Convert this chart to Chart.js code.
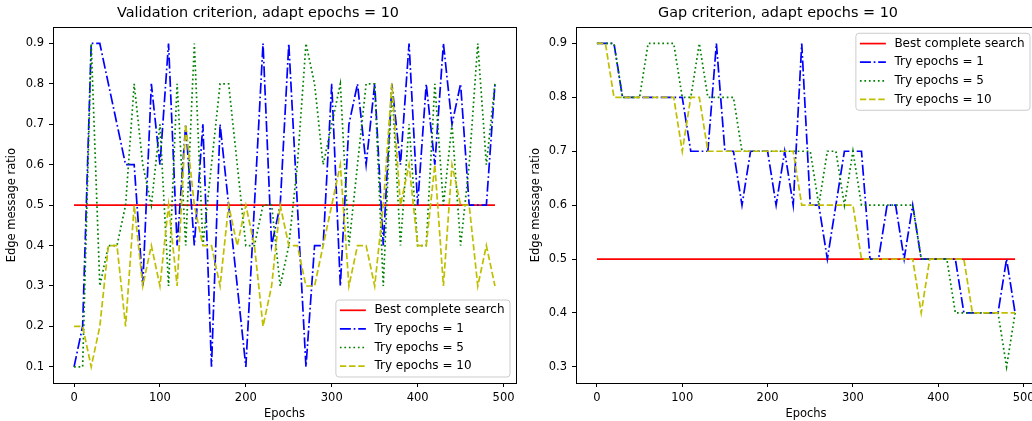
<!DOCTYPE html>
<html>
<head>
<meta charset="utf-8">
<script src="https://cdn.jsdelivr.net/npm/chart.js@4.4.1/dist/chart.umd.min.js"></script>
<style>
    html, body { margin: 0; padding: 0; background: #fff; }
    #wrap { position: relative; width: 1032px; height: 421px; overflow: hidden; }
    canvas { position: absolute; top: 0; }
    #valChart { left: 0; }
    #gapChart { left: 520px; }
</style>
</head>
<body>
<div id="wrap">
    <canvas id="valChart" width="520" height="421"></canvas>
    <canvas id="gapChart" width="540" height="421"></canvas>
</div>
<script>
const epochs = [0, 10, 20, 30, 40, 50, 60, 70, 80, 90,
    100, 110, 120, 130, 140, 150, 160, 170, 180, 190,
    200, 210, 220, 230, 240, 250, 260, 270, 280, 290,
    300, 310, 320, 330, 340, 350, 360, 370, 380, 390,
    400, 410, 420, 430, 440, 450, 460, 470, 480, 490];

const bestEpochs = [0, 490];
const bestValues = [0.5, 0.5];

// Validation criterion
const valTry1 = [0.1, 0.2, 0.9, 0.9, 0.8, 0.7, 0.6, 0.6, 0.3, 0.8,
    0.6, 0.9, 0.4, 0.7, 0.4, 0.7, 0.1, 0.7, 0.5, 0.3,
    0.1, 0.5, 0.9, 0.4, 0.5, 0.9, 0.5, 0.1, 0.4, 0.4,
    0.8, 0.3, 0.7, 0.8, 0.6, 0.8, 0.4, 0.8, 0.6, 0.9,
    0.5, 0.8, 0.6, 0.9, 0.7, 0.8, 0.5, 0.5, 0.5, 0.8];
const valTry5 = [0.1, 0.1, 0.9, 0.3, 0.4, 0.4, 0.5, 0.8, 0.6, 0.5,
    0.7, 0.3, 0.8, 0.4, 0.9, 0.4, 0.6, 0.8, 0.8, 0.6,
    0.4, 0.4, 0.5, 0.5, 0.3, 0.4, 0.6, 0.9, 0.8, 0.6,
    0.7, 0.8, 0.4, 0.6, 0.8, 0.8, 0.3, 0.8, 0.4, 0.7,
    0.4, 0.4, 0.8, 0.5, 0.7, 0.4, 0.6, 0.9, 0.6, 0.8];
const valTry10 = [0.2, 0.2, 0.1, 0.2, 0.4, 0.4, 0.2, 0.5, 0.3, 0.4,
    0.3, 0.5, 0.3, 0.7, 0.5, 0.4, 0.4, 0.3, 0.5, 0.4,
    0.5, 0.4, 0.2, 0.3, 0.5, 0.4, 0.4, 0.3, 0.3, 0.4,
    0.5, 0.6, 0.3, 0.4, 0.4, 0.3, 0.5, 0.8, 0.5, 0.6,
    0.4, 0.4, 0.6, 0.3, 0.6, 0.5, 0.5, 0.3, 0.4, 0.3];

// Gap criterion
const gapTry1 = [0.9, 0.9, 0.9, 0.8, 0.8, 0.8, 0.8, 0.8, 0.8, 0.8,
    0.8, 0.7, 0.7, 0.7, 0.9, 0.7, 0.7, 0.6, 0.7, 0.7,
    0.7, 0.6, 0.7, 0.6, 0.9, 0.6, 0.6, 0.5, 0.6, 0.7,
    0.7, 0.7, 0.5, 0.5, 0.6, 0.6, 0.5, 0.6, 0.5, 0.5,
    0.5, 0.5, 0.5, 0.4, 0.4, 0.4, 0.4, 0.4, 0.5, 0.4];
const gapTry5 = [0.9, 0.9, 0.9, 0.8, 0.8, 0.8, 0.9, 0.9, 0.9, 0.9,
    0.8, 0.8, 0.9, 0.8, 0.8, 0.8, 0.8, 0.7, 0.7, 0.7,
    0.7, 0.7, 0.7, 0.7, 0.7, 0.7, 0.6, 0.7, 0.7, 0.6,
    0.7, 0.6, 0.6, 0.6, 0.6, 0.6, 0.6, 0.6, 0.5, 0.5,
    0.5, 0.5, 0.4, 0.4, 0.4, 0.4, 0.4, 0.4, 0.3, 0.4];
const gapTry10 = [0.9, 0.9, 0.8, 0.8, 0.8, 0.8, 0.8, 0.8, 0.8, 0.8,
    0.7, 0.8, 0.8, 0.7, 0.7, 0.7, 0.7, 0.7, 0.7, 0.7,
    0.7, 0.7, 0.7, 0.7, 0.6, 0.6, 0.6, 0.6, 0.6, 0.6,
    0.6, 0.5, 0.5, 0.5, 0.5, 0.5, 0.5, 0.5, 0.4, 0.5,
    0.5, 0.5, 0.5, 0.5, 0.4, 0.4, 0.4, 0.4, 0.4, 0.4];

const xTicks = [0, 100, 200, 300, 400, 500];
const valYTicks = [0.1, 0.2, 0.3, 0.4, 0.5, 0.6, 0.7, 0.8, 0.9];
const gapYTicks = [0.3, 0.4, 0.5, 0.6, 0.7, 0.8, 0.9];

const FONT = "'DejaVu Sans', 'Liberation Sans', sans-serif";

function points(xs, ys) {
    return ys.map((y, i) => ({ x: xs[i], y: y }));
}

// black box round the plot area, like matplotlib spines
const frame = {
    id: "frame",
    afterDatasetsDraw(chart) {
        const { ctx, chartArea: a } = chart;
        ctx.save();
        ctx.strokeStyle = "#000";
        ctx.lineWidth = 1;
        ctx.strokeRect(Math.round(a.left) + 0.5, Math.round(a.top) + 0.5,
            Math.round(a.right - a.left), Math.round(a.bottom - a.top));
        ctx.restore();
    },
};

// legend drawn inside the plot area
const legendBox = {
    id: "legendBox",
    afterDatasetsDraw(chart, args, opts) {
        const { ctx, chartArea } = chart;
        const sets = chart.data.datasets;
        ctx.save();
        ctx.font = "12px " + FONT;
        let textW = 0;
        sets.forEach((ds) => {
            textW = Math.max(textW, ctx.measureText(ds.label).width);
        });
        const w = 38.5 + textW + 5.5;
        const h = 77;
        const inset = 6;
        const left = chartArea.right - inset - w;
        const top = opts.corner === "lower right"
            ? chartArea.bottom - inset - h
            : chartArea.top + inset;

        ctx.beginPath();
        ctx.roundRect(left, top, w, h, 3);
        ctx.fillStyle = "rgba(255, 255, 255, 0.8)";
        ctx.fill();
        ctx.strokeStyle = "#cccccc";
        ctx.lineWidth = 1;
        ctx.stroke();

        sets.forEach((ds, i) => {
            const y = top + 10.3 + 18.6 * i;
            ctx.beginPath();
            ctx.setLineDash(ds.borderDash || []);
            ctx.strokeStyle = ds.borderColor;
            ctx.lineWidth = ds.borderWidth;
            ctx.moveTo(left + 4, y);
            ctx.lineTo(left + 30, y);
            ctx.stroke();
            ctx.setLineDash([]);
            ctx.fillStyle = "#000";
            ctx.textBaseline = "middle";
            ctx.textAlign = "left";
            ctx.fillText(ds.label, left + 38.5, y);
        });
        ctx.restore();
    },
};

function makeChart(canvasId, cfg) {
    const tickFont = { family: FONT, size: 11.5 };
    new Chart(document.getElementById(canvasId), {
        type: "line",
        data: {
            datasets: [
                {
                    label: "Best complete search",
                    data: points(bestEpochs, bestValues),
                    borderColor: "#ff0000",
                    borderWidth: 1.7,
                    borderDash: [],
                    order: 4,
                },
                {
                    label: "Try epochs = 1",
                    data: points(epochs, cfg.try1),
                    borderColor: "#0000ff",
                    borderWidth: 1.7,
                    borderDash: [11, 2.8, 1.7, 2.8],
                    order: 3,
                },
                {
                    label: "Try epochs = 5",
                    data: points(epochs, cfg.try5),
                    borderColor: "#008000",
                    borderWidth: 1.7,
                    borderDash: [1.7, 2.8],
                    order: 2,
                },
                {
                    label: "Try epochs = 10",
                    data: points(epochs, cfg.try10),
                    borderColor: "#bfbf00",
                    borderWidth: 1.7,
                    borderDash: [6.4, 2.8],
                    order: 1,
                },
            ],
        },
        options: {
            responsive: false,
            animation: false,
            layout: {
                padding: { left: 0, right: cfg.padRight, top: 0, bottom: 0 },
            },
            elements: {
                point: { radius: 0 },
                line: { tension: 0, fill: false },
            },
            plugins: {
                legend: { display: false },
                tooltip: { enabled: false },
                title: {
                    display: true,
                    text: cfg.title,
                    color: "#000",
                    font: { family: FONT, size: 14.4, weight: "normal" },
                    padding: { top: 5, bottom: 5 },
                },
                legendBox: { corner: cfg.legendCorner },
            },
            scales: {
                x: {
                    type: "linear",
                    min: -24.5,
                    max: 514.5,
                    afterBuildTicks: (s) => {
                        s.ticks = xTicks.map((v) => ({ value: v }));
                    },
                    afterFit: (s) => {
                        s.height = 38;
                    },
                    ticks: {
                        autoSkip: false,
                        maxRotation: 0,
                        padding: 4,
                        color: "#000",
                        font: tickFont,
                        callback: (v) => String(v),
                    },
                    grid: {
                        drawOnChartArea: false,
                        drawTicks: true,
                        tickLength: 4,
                        color: "#000",
                        lineWidth: 1,
                    },
                    border: { display: false },
                    title: {
                        display: true,
                        text: "Epochs",
                        color: "#000",
                        font: tickFont,
                        padding: { top: 0, bottom: 0 },
                    },
                },
                y: {
                    type: "linear",
                    min: cfg.yMin,
                    max: cfg.yMax,
                    afterBuildTicks: (s) => {
                        s.ticks = cfg.yTicks.map((v) => ({ value: v }));
                    },
                    afterFit: (s) => {
                        s.width = cfg.yWidth;
                    },
                    ticks: {
                        autoSkip: false,
                        padding: 5,
                        color: "#000",
                        font: tickFont,
                        callback: (v) => v.toFixed(1),
                    },
                    grid: {
                        drawOnChartArea: false,
                        drawTicks: true,
                        tickLength: 4,
                        color: "#000",
                        lineWidth: 1,
                    },
                    border: { display: false },
                    title: {
                        display: true,
                        text: "Edge message ratio",
                        color: "#000",
                        font: tickFont,
                        padding: { top: cfg.yTitlePad, bottom: 0 },
                    },
                },
            },
        },
        plugins: [frame, legendBox],
    });
}

makeChart("valChart", {
    title: "Validation criterion, adapt epochs = 10",
    try1: valTry1,
    try5: valTry5,
    try10: valTry10,
    yMin: 0.06,
    yMax: 0.94,
    yTicks: valYTicks,
    yWidth: 53,
    yTitlePad: 5,
    padRight: 4,
    legendCorner: "lower right",
});

makeChart("gapChart", {
    title: "Gap criterion, adapt epochs = 10",
    try1: gapTry1,
    try5: gapTry5,
    try10: gapTry10,
    yMin: 0.27,
    yMax: 0.93,
    yTicks: gapYTicks,
    yWidth: 56,
    yTitlePad: 9,
    padRight: 24,
    legendCorner: "upper right",
});
</script>
</body>
</html>
